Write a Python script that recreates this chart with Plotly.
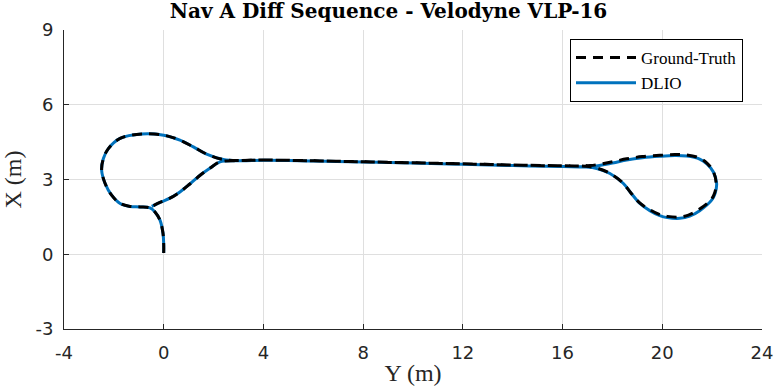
import plotly.graph_objects as go

# DLIO trajectory (horizontal = Y (m), vertical = X (m))
dlio_y = [0.0, 0.0, -0.03, -0.15, -0.35, -0.55, -0.95, -1.35, -1.75, -2.09, -2.35, -2.49, -2.42, -2.22,
          -1.75, -0.88, 0.0, 0.65, 1.19, 1.72, 2.39, 3.06, 4.0, 6.0, 8.0, 10.0, 12.0, 14.0, 16.0, 17.1,
          18.0, 18.57, 19.2, 19.9, 20.5, 20.98, 21.5, 21.8, 22.05, 22.18, 22.12, 21.98, 21.5, 21.1, 20.7,
          20.2, 19.9, 19.5, 19.1, 18.75, 18.44, 17.9, 17.37, 16.9, 16.0, 14.0, 12.0, 10.0, 8.0, 6.0, 4.0,
          3.0, 2.26, 1.85, 1.46, 1.05, 0.65, 0.25, -0.15, -0.48]
dlio_x = [0.05, 0.4, 0.85, 1.37, 1.7, 1.86, 1.9, 1.92, 2.04, 2.37, 2.84, 3.37, 3.84, 4.24,
          4.65, 4.83, 4.78, 4.58, 4.31, 4.02, 3.8, 3.75, 3.77, 3.74, 3.7, 3.66, 3.61, 3.56, 3.52, 3.52,
          3.66, 3.78, 3.87, 3.93, 3.96, 3.94, 3.82, 3.62, 3.3, 2.84, 2.45, 2.17, 1.75, 1.53, 1.44,
          1.47, 1.55, 1.75, 2.04, 2.45, 2.84, 3.24, 3.44, 3.5, 3.52, 3.56, 3.61, 3.66, 3.7, 3.74, 3.77,
          3.75, 3.71, 3.45, 3.17, 2.82, 2.5, 2.25, 2.08, 1.92]

# Ground-truth trajectory
gt_y = [0.0, 0.0, -0.03, -0.15, -0.35, -0.55, -0.95, -1.35, -1.75, -2.09, -2.35, -2.49, -2.42, -2.22,
        -1.75, -0.88, 0.0, 0.65, 1.19, 1.72, 2.39, 3.06, 4.0, 6.0, 8.0, 10.0, 12.0, 14.0, 16.0, 17.1,
        18.0, 18.57, 19.2, 19.9, 20.5, 20.98, 21.5, 21.8, 22.05, 22.16, 22.1, 21.95, 21.45, 21.05, 20.68,
        20.2, 19.88, 19.48, 19.07, 18.72, 18.4, 17.86, 17.33, 16.9, 16.0, 14.0, 12.0, 10.0, 8.0, 6.0, 4.0,
        3.0, 2.26, 1.85, 1.46, 1.05, 0.65, 0.25, -0.15, -0.48]
gt_x = [0.05, 0.4, 0.85, 1.37, 1.7, 1.86, 1.9, 1.92, 2.04, 2.37, 2.84, 3.37, 3.84, 4.24,
        4.65, 4.83, 4.78, 4.58, 4.31, 4.02, 3.8, 3.76, 3.78, 3.75, 3.71, 3.67, 3.63, 3.58, 3.55, 3.56,
        3.71, 3.83, 3.92, 3.97, 4.0, 3.98, 3.86, 3.65, 3.32, 2.85, 2.46, 2.18, 1.78, 1.57, 1.49,
        1.52, 1.6, 1.8, 2.08, 2.49, 2.88, 3.27, 3.47, 3.53, 3.55, 3.58, 3.63, 3.67, 3.71, 3.75, 3.78,
        3.76, 3.71, 3.45, 3.17, 2.82, 2.5, 2.25, 2.08, 1.92]

x_ticks = [-4, 0, 4, 8, 12, 16, 20, 24]
y_ticks = [-3, 0, 3, 6, 9]

fig = go.Figure()
fig.add_trace(go.Scatter(x=dlio_y, y=dlio_x, mode="lines", name="DLIO",
                         line=dict(color="#0072BD", width=3, shape="spline", smoothing=1.0),
                         legendrank=2))
fig.add_trace(go.Scatter(x=gt_y, y=gt_x, mode="lines", name="Ground-Truth",
                         line=dict(color="black", width=3, dash="10px,7px", shape="spline", smoothing=1.0),
                         legendrank=1))

axis_common = dict(showgrid=True, gridcolor="#dfdfdf", gridwidth=1, zeroline=False,
                   showline=True, linecolor="#262626", linewidth=1,
                   ticks="inside", ticklen=5, tickcolor="#262626", automargin=False,
                   tickfont=dict(family="DejaVu Sans", size=18, color="#262626"))

fig.update_layout(
    width=777, height=391,
    margin=dict(l=64, r=15, t=30, b=62),
    paper_bgcolor="white", plot_bgcolor="white",
    title=dict(text="<b>Nav A Diff Sequence - Velodyne VLP-16</b>", x=0.5, xanchor="center",
               y=1 - 11 / 391, yanchor="middle",
               font=dict(family="DejaVu Serif", size=20, color="black")),
    xaxis=dict(range=[-4, 24], tickvals=x_ticks, ticktext=[str(v) for v in x_ticks],
               ticklabelstandoff=7,
               title=dict(text="Y (m)", font=dict(family="Liberation Serif", size=24, color="#262626"),
                          standoff=2),
               **axis_common),
    yaxis=dict(range=[-3, 9], tickvals=y_ticks, ticktext=[str(v) for v in y_ticks],
               ticklabelstandoff=6,
               title=dict(text="X (m)", font=dict(family="Liberation Serif", size=24, color="#262626"),
                          standoff=8),
               **axis_common),
    legend=dict(x=(743 - 64) / 698, y=(329 - 39) / 299, xanchor="right", yanchor="top",
                bgcolor="white", bordercolor="black", borderwidth=1,
                font=dict(family="Liberation Serif", size=17, color="black"),
                itemwidth=60, tracegroupgap=0),
    showlegend=True,
)

fig.write_html("out.html", config={"displayModeBar": False},
               post_script="document.body.style.margin='0';")
